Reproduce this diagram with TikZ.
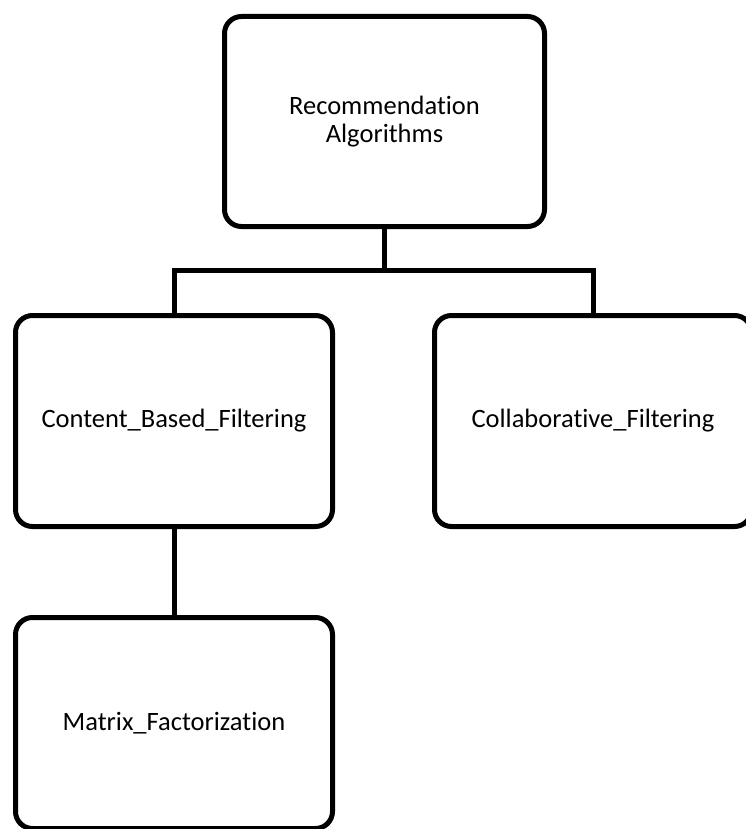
\documentclass[tikz,border=0pt]{standalone}
\usepackage{fontspec}
\setmainfont[Ligatures={NoCommon}]{Carlito}
\usetikzlibrary{positioning}

\tikzset{
  algobox/.style={draw, line width=5pt, rounded corners=17pt, rectangle,
    minimum width=317pt, minimum height=211pt, align=center,
    font=\fontsize{26.5}{28}\selectfont},
  link/.style={line width=5pt}
}

\begin{document}
\begin{tikzpicture}[x=1pt, y=-1pt]
      \useasboundingbox (0, 0) rectangle (745, 829);

      \node[algobox, minimum width=320pt, minimum height=210pt] (root) at (384.5, 121.5) {Recommendation\\Algorithms};
      \node[algobox] (cbf) at (174, 421) {Content\_Based\_Filtering};
      \node[algobox] (cf) at (593, 421) {Collaborative\_Filtering};
      \node[algobox] (mf) at (174, 723) {Matrix\_Factorization};

      \coordinate (split) at (384.5, 270);
      \draw[link] (root.south) -- (split);
      \draw[link] (split) -| (cbf.north);
      \draw[link] (split) -| (cf.north);
      \draw[link] (cbf.south) -- (mf.north);
    \end{tikzpicture}
\end{document}
